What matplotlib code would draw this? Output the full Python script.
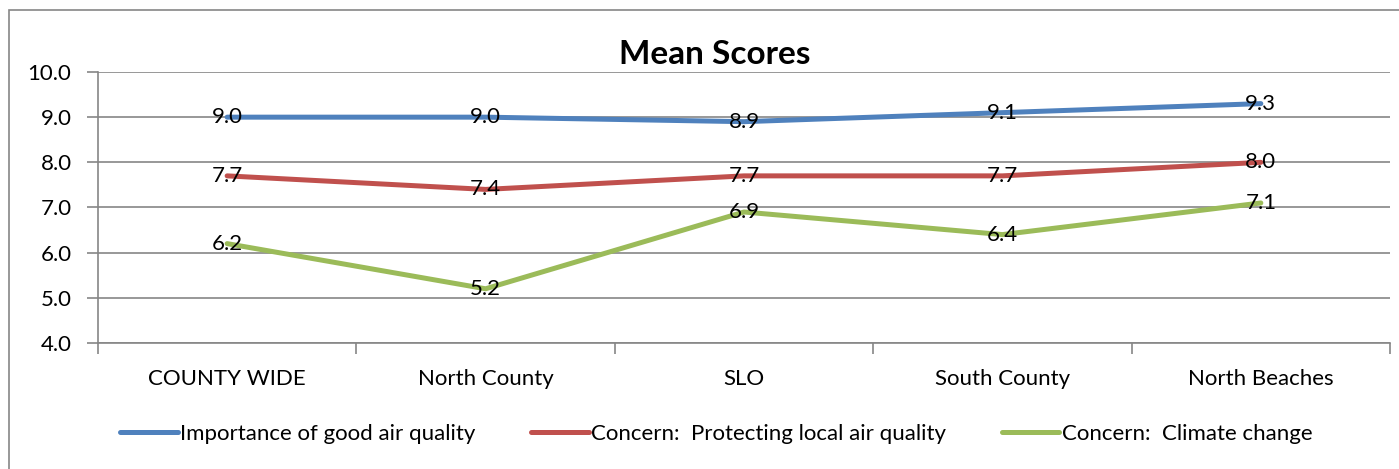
import matplotlib.pyplot as plt
from matplotlib.patches import Rectangle

plt.rcParams["font.family"] = ["Lato", "DejaVu Sans"]

regions = ["COUNTY WIDE", "North County", "SLO", "South County", "North Beaches"]
air_quality = [9.0, 9.0, 8.9, 9.1, 9.3]
local_concern = [7.7, 7.4, 7.7, 7.7, 8.0]
climate_concern = [6.2, 5.2, 6.9, 6.4, 7.1]
series_names = [
    "Importance of good air quality",
    "Concern:  Protecting local air quality",
    "Concern:  Climate change",
]
colors = ["#4F81BD", "#C0504D", "#9BBB59"]
grey = "#868686"
fs = 16

fig = plt.figure(figsize=(13.99, 4.69), dpi=100)
ax = fig.add_axes([0.070, 0.2687, 0.9236, 0.5778])

# chart border like the spreadsheet frame
fig.patches.append(Rectangle((9 / 1399, -0.1), 1.2, 1 - 10 / 469 + 0.1,
                             transform=fig.transFigure, fill=False,
                             edgecolor=grey, linewidth=1.2, clip_on=False))

x = list(range(len(regions)))
for vals, name, c in zip([air_quality, local_concern, climate_concern], series_names, colors):
    ax.plot(x, vals, color=c, linewidth=3.6, label=name, solid_capstyle="round", zorder=3)
    for xi, v in zip(x, vals):
        ax.text(xi, v, f"{v:.1f}", ha="center", va="center", fontsize=fs, zorder=4)

ax.set_xlim(-0.5, len(regions) - 0.5)
ax.set_ylim(4, 10)
ax.set_yticks([4, 5, 6, 7, 8, 9, 10])
ax.set_yticklabels([f"{t:.1f}" for t in range(4, 11)])
ax.set_xticks(x)
ax.set_xticklabels(regions)
ax.set_xticks([i - 0.5 for i in range(len(regions) + 1)], minor=True)
ax.tick_params(axis="x", which="major", length=0, pad=19, labelsize=fs)
ax.tick_params(axis="x", which="minor", length=8, color=grey, width=1.2)
ax.tick_params(axis="y", length=8, color=grey, width=1.2, labelsize=fs, pad=11)
ax.yaxis.grid(True, color=grey, linewidth=1.2)
ax.set_axisbelow(True)
for side in ["top", "right"]:
    ax.spines[side].set_visible(False)
for side in ["left", "bottom"]:
    ax.spines[side].set_color(grey)
    ax.spines[side].set_linewidth(1.2)

fig.text(0.511, 1 - 55 / 469, "Mean Scores", ha="center", va="center",
         fontsize=24, fontweight="bold")

fig.legend(loc="center", bbox_to_anchor=(0.512, 1 - 434 / 469), ncol=3,
           frameon=False, fontsize=fs, handlelength=2.6, handletextpad=0.1,
           columnspacing=2.5)

fig.savefig("out.png", dpi=100)
